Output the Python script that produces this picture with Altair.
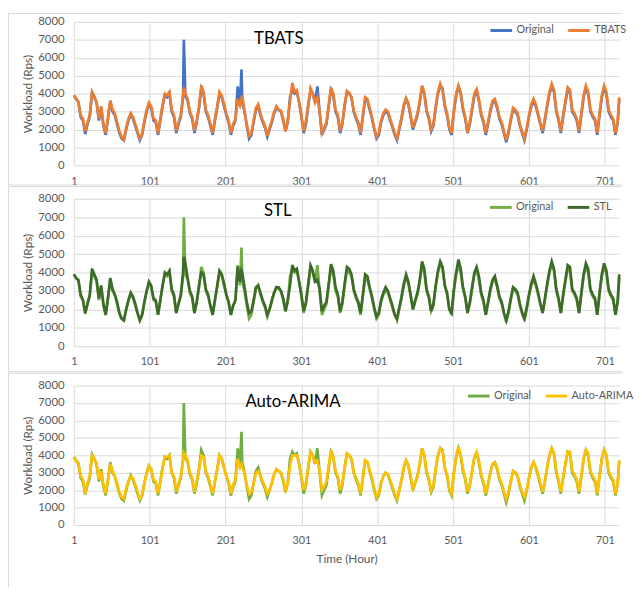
import altair as alt
import pandas as pd

# hourly positions of the read points (every 3 h, plus the two narrow spikes and the last hour)
hours = sorted(set(range(1, 719, 3)) | {146, 222, 720})

original = [
    3900, 3700, 3550, 2700, 2500, 1750, 2300, 2700,
    4050, 3800, 3500, 2500, 3200, 2200, 1700, 2600,
    3600, 3000, 2800, 2300, 1800, 1500, 1400, 2000,
    2500, 2850, 2600, 2200, 1800, 1400, 1700, 2400,
    3000, 3400, 3200, 2500, 2400, 1700, 2500, 3300,
    3900, 3800, 4000, 3000, 2700, 1800, 2300, 2700,
    3800, 7000, 3900, 3600, 2900, 2600, 1800, 2400, 3200,
    4300, 4000, 3000, 2700, 2200, 1700, 2500, 3200,
    4000, 3800, 3300, 2800, 2400, 1700, 2200, 2500,
    4400, 3300, 5350, 3600, 3000, 2200, 1500, 1700, 2400,
    3100, 3300, 2800, 2400, 2100, 1600, 2000, 2400,
    2900, 3200, 3100, 3000, 2500, 1900, 2400, 3800,
    4200, 4000, 4100, 3500, 2700, 1800, 2300, 3300,
    4200, 4000, 3500, 4400, 3000, 1700, 2000, 2300,
    3300, 4200, 3900, 3000, 2700, 1800, 2300, 3300,
    4100, 4000, 3800, 3000, 2600, 2300, 1700, 2700,
    3700, 3600, 3100, 2600, 2000, 1500, 1700, 2400,
    2800, 3000, 2900, 2500, 2100, 1700, 1400, 2000,
    2600, 3300, 3700, 3400, 2700, 2000, 2400, 2800,
    3500, 4400, 4000, 3000, 2600, 1900, 2200, 3200,
    4000, 4400, 4300, 3300, 2800, 2000, 1700, 3000,
    3900, 4400, 4000, 3100, 2600, 1800, 2300, 3100,
    3900, 4100, 3600, 2800, 2400, 1700, 2300, 3000,
    3500, 3600, 3200, 2600, 2300, 1800, 1300, 1800,
    2500, 3100, 3000, 2800, 2200, 1800, 1400, 2000,
    2700, 3300, 3600, 3300, 2800, 2300, 1800, 2500,
    3300, 4000, 4400, 4100, 3000, 2500, 1800, 2700,
    3500, 4200, 4100, 3000, 2800, 2500, 1800, 2800,
    3800, 4300, 4000, 3000, 2700, 2500, 1700, 2800,
    3800, 4300, 4000, 3000, 2700, 2500, 1700, 2400,
    3700,
]

tbats = [
    3900, 3750, 3500, 2800, 2600, 1900, 2400, 2800,
    4100, 3850, 3500, 2600, 3300, 2300, 1800, 2700,
    3600, 3100, 2900, 2400, 1900, 1600, 1450, 2100,
    2600, 2900, 2700, 2300, 1900, 1500, 1750, 2500,
    3100, 3500, 3300, 2600, 2500, 1800, 2600, 3400,
    4000, 3900, 4100, 3100, 2800, 1900, 2400, 2800,
    3900, 4350, 4000, 3700, 3000, 2700, 1900, 2500, 3300,
    4450, 4100, 3100, 2800, 2300, 1800, 2600, 3300,
    4100, 3900, 3400, 2900, 2500, 1800, 2300, 2600,
    3700, 3350, 3700, 3900, 3000, 2300, 1650, 1800, 2500,
    3200, 3400, 2900, 2500, 2200, 1650, 2100, 2500,
    3000, 3300, 3100, 3050, 2600, 1900, 2500, 3600,
    4600, 4100, 4200, 3500, 2800, 1900, 2500, 3400,
    4300, 4000, 3500, 3800, 3000, 1800, 2100, 2400,
    3400, 4350, 4000, 3100, 2800, 1900, 2400, 3400,
    4150, 4050, 3800, 3050, 2700, 2400, 1800, 2800,
    3800, 3700, 3200, 2700, 2100, 1600, 1800, 2500,
    2900, 3100, 3000, 2600, 2200, 1800, 1500, 2100,
    2700, 3400, 3750, 3450, 2800, 2100, 2500, 2900,
    3600, 4450, 4050, 3100, 2700, 2000, 2300, 3300,
    4100, 4550, 4200, 3400, 2900, 2100, 1800, 3100,
    4000, 4450, 4050, 3200, 2700, 1850, 2400, 3200,
    4000, 4250, 3700, 2900, 2500, 1800, 2400, 3100,
    3600, 3700, 3300, 2700, 2400, 1900, 1400, 1900,
    2600, 3200, 3100, 2900, 2300, 1900, 1500, 2100,
    2800, 3400, 3700, 3400, 2900, 2400, 1900, 2600,
    3400, 4100, 4550, 4200, 3100, 2600, 1900, 2800,
    3600, 4350, 4200, 3100, 2900, 2600, 1900, 2900,
    3900, 4450, 4100, 3100, 2800, 2600, 1800, 2900,
    3900, 4450, 4100, 3100, 2800, 2600, 1800, 2500,
    3800,
]

stl = [
    3900, 3700, 3600, 2800, 2500, 1800, 2300, 2800,
    4200, 3900, 3600, 2600, 3300, 2300, 1700, 2600,
    3700, 3100, 2800, 2400, 1800, 1500, 1400, 2000,
    2500, 2900, 2700, 2300, 1800, 1400, 1700, 2400,
    3000, 3500, 3300, 2600, 2500, 1700, 2500, 3300,
    4000, 3900, 4100, 3100, 2800, 1800, 2300, 2800,
    4000, 4850, 4500, 3700, 3000, 2700, 1800, 2400, 3300,
    4000, 3900, 3100, 2800, 2200, 1700, 2500, 3300,
    4100, 3900, 3400, 2800, 2400, 1700, 2200, 2500,
    4300, 3500, 4100, 4000, 3200, 2400, 1800, 1900, 2500,
    3200, 3300, 2900, 2500, 2200, 1700, 2000, 2500,
    2900, 3200, 3200, 3000, 2600, 1900, 2500, 3300,
    4400, 4100, 4200, 3500, 2800, 1900, 2400, 3400,
    4400, 4100, 3500, 3600, 3100, 1900, 2200, 2400,
    3400, 4450, 4100, 3200, 2800, 1900, 2400, 3400,
    4300, 4200, 3900, 3100, 2700, 2400, 1800, 2800,
    3900, 3800, 3200, 2700, 2100, 1600, 1800, 2500,
    2900, 3200, 3000, 2600, 2200, 1700, 1500, 2100,
    2700, 3400, 3900, 3500, 2800, 2000, 2500, 2900,
    3600, 4600, 4200, 3100, 2700, 1900, 2300, 3300,
    4100, 4600, 4300, 3300, 2900, 2000, 1800, 3100,
    4000, 4700, 4200, 3200, 2700, 1800, 2400, 3200,
    4000, 4300, 3800, 2900, 2500, 1700, 2400, 3100,
    3600, 3800, 3300, 2700, 2400, 1800, 1400, 1900,
    2600, 3200, 3100, 2900, 2300, 1800, 1500, 2100,
    2800, 3400, 3800, 3400, 2900, 2300, 1800, 2600,
    3400, 4100, 4600, 4200, 3100, 2600, 1800, 2800,
    3600, 4400, 4300, 3100, 2900, 2600, 1800, 2900,
    3900, 4500, 4200, 3100, 2800, 2600, 1700, 2900,
    3900, 4500, 4100, 3100, 2800, 2600, 1700, 2500,
    3900,
]

arima = [
    3900, 3700, 3500, 2800, 2600, 1800, 2400, 2800,
    4000, 3800, 3500, 2600, 3100, 2300, 1800, 2600,
    3500, 3100, 2800, 2400, 1900, 1600, 1500, 2100,
    2500, 2800, 2700, 2300, 1900, 1500, 1700, 2400,
    3000, 3400, 3200, 2600, 2500, 1800, 2500, 3300,
    3900, 3900, 4000, 3000, 2800, 1900, 2400, 2800,
    3700, 4150, 4000, 3700, 3000, 2700, 1900, 2500, 3200,
    4000, 3900, 3100, 2800, 2300, 1800, 2500, 3200,
    4000, 3800, 3300, 2800, 2500, 1800, 2300, 2600,
    3800, 3300, 3500, 3300, 3000, 2300, 1800, 1900, 2400,
    3000, 3100, 2800, 2500, 2200, 1800, 2000, 2400,
    2900, 3200, 3100, 3000, 2600, 2000, 2400, 3400,
    4000, 4000, 4000, 3500, 2800, 2000, 2400, 3300,
    4200, 4000, 3600, 3700, 3100, 2000, 2200, 2500,
    3400, 4300, 3900, 3100, 2800, 2000, 2400, 3300,
    4100, 4000, 3800, 3000, 2700, 2400, 1800, 2700,
    3700, 3600, 3100, 2700, 2100, 1600, 1800, 2400,
    2800, 3000, 2900, 2600, 2200, 1800, 1500, 2000,
    2600, 3300, 3700, 3400, 2800, 2100, 2400, 2800,
    3500, 4400, 4000, 3100, 2700, 2000, 2300, 3200,
    4000, 4400, 4200, 3300, 2900, 2100, 1800, 3000,
    3900, 4500, 4000, 3200, 2700, 1900, 2300, 3100,
    3900, 4200, 3700, 2900, 2500, 1800, 2300, 3000,
    3500, 3600, 3300, 2700, 2400, 1900, 1500, 1900,
    2500, 3100, 3000, 2800, 2300, 1900, 1600, 2000,
    2700, 3300, 3600, 3300, 2900, 2400, 1900, 2500,
    3300, 4000, 4400, 4100, 3100, 2600, 1900, 2700,
    3500, 4200, 4200, 3100, 2900, 2600, 1900, 2800,
    3800, 4300, 4100, 3100, 2800, 2600, 1800, 2800,
    3800, 4300, 4000, 3100, 2800, 2600, 1800, 2400,
    3700,
]

x_ticks = [1, 101, 201, 301, 401, 501, 601, 701]
y_ticks = [0, 1000, 2000, 3000, 4000, 5000, 6000, 7000, 8000]

FONT = "Lato"
GRID = "#D9D9D9"
TXT = "#595959"
W = 555
LEFT = -66.5
RIGHT = 558


def panel(name, vals, c_orig, c_fc, h, title, tx, ty, lx, ly, b_top, b_bot, bottom_line, xtitle):
    n = len(hours)
    df = pd.DataFrame({
        "hour": hours * 2,
        "value": original + vals,
        "series": ["Original"] * n + [name] * n,
    })
    color = alt.Color(
        "series:N",
        scale=alt.Scale(domain=["Original", name], range=[c_orig, c_fc]),
        legend=alt.Legend(
            orient="none", legendX=lx, legendY=ly, direction="horizontal",
            title=None, symbolType="stroke", symbolSize=484, symbolStrokeWidth=3,
            labelFont=FONT, labelFontSize=11, labelColor=TXT,
            columnPadding=8, labelOffset=3, padding=0,
        ),
    )
    x_axis_kw = dict(
        values=x_ticks, format="d", grid=True, gridColor=GRID, ticks=False, tickSize=0,
        domain=False, labelFont=FONT, labelFontSize=11, labelColor=TXT,
        labelPadding=10, labelFlush=False, labelOverlap=False,
    )
    if xtitle:
        x_axis_kw.update(title=xtitle, titleFont=FONT, titleFontSize=12,
                         titleFontWeight="normal", titleColor=TXT, titlePadding=8)
    else:
        x_axis_kw.update(title=None)
    x = alt.X("hour:Q", scale=alt.Scale(domain=[1, 720], nice=False, zero=False),
              axis=alt.Axis(**x_axis_kw))
    y = alt.Y(
        "value:Q", scale=alt.Scale(domain=[0, 8000], nice=False),
        axis=alt.Axis(
            values=y_ticks, format="d", grid=True, gridColor=GRID, ticks=False, tickSize=0,
            domain=False, labelFont=FONT, labelFontSize=11.5, labelColor=TXT, labelPadding=10,
            title="Workload (Rps)", titleFont=FONT, titleFontSize=12,
            titleFontWeight="normal", titleColor=TXT, titlePadding=3,
        ),
    )
    base = alt.Chart(df).encode(x=x, y=y, color=color)
    l_orig = base.transform_filter(alt.datum.series == "Original").mark_line(strokeWidth=2.7)
    l_fc = base.transform_filter(alt.datum.series == name).mark_line(strokeWidth=2.7)

    frame = pd.DataFrame({"k": [0]})
    left_line = alt.Chart(frame).mark_rule(color=GRID, strokeWidth=1).encode(
        x=alt.value(LEFT), y=alt.value(b_top), y2=alt.value(b_bot))
    top_line = alt.Chart(frame).mark_rule(color=GRID, strokeWidth=1).encode(
        x=alt.value(LEFT), x2=alt.value(RIGHT), y=alt.value(b_top))
    layers = [left_line, top_line]
    if bottom_line:
        layers.append(alt.Chart(frame).mark_rule(color=GRID, strokeWidth=1).encode(
            x=alt.value(LEFT), x2=alt.value(RIGHT), y=alt.value(b_bot)))
    ttl = alt.Chart(pd.DataFrame({"t": [title]})).mark_text(
        font=FONT, fontSize=17, color="#000000", align="center", baseline="middle"
    ).encode(text="t:N", x=alt.value(tx), y=alt.value(ty))
    layers += [l_orig, l_fc, ttl]
    return alt.layer(*layers).properties(width=W, height=h)


p1 = panel("TBATS", tbats, "#4472C4", "#ED7D31", 146, "TBATS", 208.5, 18, 422.5, -4,
           -8.5, 166, True, None)
p2 = panel("STL", stl, "#70AD47", "#3E6B2A", 150, "STL", 207.5, 12.5, 422, -4,
           -12.5, 176, True, None)
p3 = panel("Auto-ARIMA", arima, "#70AD47", "#FFC000", 142, "Auto-ARIMA", 223, 16.5, 399.5, -2,
           -12.5, 205, False, "Time (Hour)")

chart = (
    alt.vconcat(p1, p2, p3, spacing=0)
    .resolve_scale(color="independent")
    .properties(padding=0)
    .configure_view(stroke=None)
)

chart.save("out.html", embed_options={"renderer": "svg", "actions": False})
